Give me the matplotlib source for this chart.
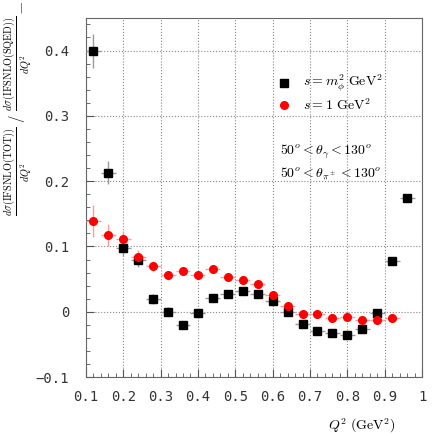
import matplotlib
matplotlib.use("Agg")
import matplotlib.pyplot as plt
import numpy as np

plt.rcParams['mathtext.fontset'] = 'cm'

# bin centres in Q^2 (GeV^2)
q2_black = [0.12, 0.16, 0.20, 0.24, 0.28, 0.32, 0.36, 0.40, 0.44, 0.48, 0.52,
            0.56, 0.60, 0.64, 0.68, 0.72, 0.76, 0.80, 0.84, 0.88, 0.92, 0.96]
ratio_black = [0.400, 0.213, 0.098, 0.079, 0.020, 0.000, -0.020, -0.002, 0.021, 0.028, 0.032,
               0.028, 0.017, 0.000, -0.019, -0.030, -0.033, -0.036, -0.027, -0.002, 0.078, 0.175]
err_black = [0.026, 0.018, 0.012, 0.010, 0.008, 0.007, 0.006, 0.006, 0.005, 0.005, 0.005,
             0.005, 0.005, 0.005, 0.005, 0.004, 0.004, 0.004, 0.004, 0.004, 0.004, 0.004]

q2_red = [0.12, 0.16, 0.20, 0.24, 0.28, 0.32, 0.36, 0.40, 0.44, 0.48, 0.52,
          0.56, 0.60, 0.64, 0.68, 0.72, 0.76, 0.80, 0.84, 0.88, 0.92]
ratio_red = [0.139, 0.118, 0.111, 0.084, 0.070, 0.056, 0.062, 0.056, 0.065, 0.054, 0.049,
             0.042, 0.026, 0.009, -0.003, -0.003, -0.009, -0.008, -0.012, -0.013, -0.010]
err_red = [0.025, 0.017, 0.012, 0.010, 0.008, 0.007, 0.006, 0.006, 0.005, 0.005, 0.005,
           0.004, 0.004, 0.004, 0.004, 0.004, 0.003, 0.003, 0.003, 0.003, 0.003]

bin_half = 0.02

fig = plt.figure(figsize=(4.36, 4.36), dpi=100)
ax = fig.add_axes([0.197, 0.135, 0.771, 0.824])

ax.errorbar(q2_black, ratio_black, xerr=bin_half, yerr=err_black,
            fmt='s', ms=5.5, mfc='black', mec='black', ecolor='#9a9a9a',
            elinewidth=1.0, capsize=0, zorder=3)
ax.errorbar(q2_red, ratio_red, xerr=bin_half, yerr=err_red,
            fmt='o', ms=5.5, mfc='red', mec='red', ecolor='#ff9a9a',
            elinewidth=1.0, capsize=0, zorder=3)

ax.set_xlim(0.1, 1.0)
ax.set_ylim(-0.1, 0.45)
ax.set_xticks(np.arange(0.1, 1.01, 0.1))
ax.set_xticklabels(['0.1', '0.2', '0.3', '0.4', '0.5', '0.6', '0.7', '0.8', '0.9', '1'])
ax.set_yticks([-0.1, 0, 0.1, 0.2, 0.3, 0.4])
ax.set_yticklabels(['\u22120.1', '0', '0.1', '0.2', '0.3', '0.4'])
ax.set_xticks(np.arange(0.1, 1.0, 0.02), minor=True)
ax.set_yticks(np.arange(-0.1, 0.45, 0.02), minor=True)
ax.tick_params(which='both', direction='in', top=False, right=False, color='#555555')
ax.tick_params(which='major', length=6)
ax.tick_params(axis='y', which='major', pad=12)
ax.tick_params(axis='x', which='major', pad=9)
ax.tick_params(which='minor', length=3)
for lab in ax.get_xticklabels() + ax.get_yticklabels():
    lab.set_family('DejaVu Sans Mono')
    lab.set_fontsize(10)
    lab.set_color('#333333')
ax.grid(which='major', linestyle=':', color='#888888', linewidth=0.8)
for sp in ax.spines.values():
    sp.set_color('#666666')

# legend drawn by hand
ax.plot(0.63, 0.35, 's', ms=5.5, color='black')
ax.text(0.68, 0.35, r'$s = m_\phi^2\ \mathrm{GeV}^2$', fontsize=10, va='center')
ax.plot(0.63, 0.316, 'o', ms=5.5, color='red')
ax.text(0.68, 0.316, r'$s = 1\ \mathrm{GeV}^2$', fontsize=10, va='center')
ax.text(0.62, 0.245, r'$50^o < \theta_\gamma < 130^o$', fontsize=10, va='center')
ax.text(0.62, 0.211, r'$50^o < \theta_{\pi^\pm} < 130^o$', fontsize=10, va='center')

ax.set_xlabel(r'$Q^2\ (\mathrm{GeV}^2)$', fontsize=10)
ax.xaxis.set_label_coords(0.82, -0.11)
ax.set_ylabel(r'$\frac{d\sigma(\mathrm{IFSNLO(TOT)})}{dQ^2}\ /\ \frac{d\sigma(\mathrm{IFSNLO(SQED)})}{dQ^2}$',
              fontsize=10.5)
ax.yaxis.set_label_coords(-0.158, 0.727)
fig.text(0.05, 0.982, '|', fontsize=7, color='#555555', ha='center', va='center')

fig.savefig('out.png', dpi=100)
